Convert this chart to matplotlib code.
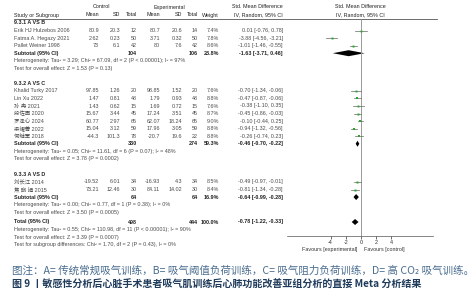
import numpy as np
import matplotlib.pyplot as plt
from matplotlib.patches import Polygon

plt.rcParams['font.family'] = ['Liberation Sans', 'Noto Sans CJK SC', 'DejaVu Sans']

# ---- data ----
groups = ['9.3.1 A VS B', '9.3.2 A VS C', '9.3.3 A VS D']
studies = ['Erik HJ Hulzebos 2006', 'Fatma A. Hegazy 2021', 'Pallet Weiner 1998',
           'Khalid Turky 2017', 'Lin Xu 2022', '孙 冉 2021', '段佐因 2020',
           '罗泽心 2024', '梁耀菁 2022', '何继军 2018',
           '刘长江 2014', '焦 晓 娟 2015']
group_of = [0, 0, 0, 1, 1, 1, 1, 1, 1, 1, 2, 2]
ctrl_mean = ['80.9', '2.62', '73', '97.85', '1.47', '1.43', '15.67', '60.77', '15.04', '-44.3', '-19.52', '73.21']
ctrl_sd = ['20.3', '0.23', '6.1', '1.26', '0.81', '0.62', '3.44', '2.97', '3.12', '101.3', '6.01', '12.46']
ctrl_n = [12, 50, 42, 20, 48, 15, 45, 65, 59, 78, 34, 30]
exp_mean = ['80.7', '3.71', '80', '98.85', '1.79', '1.69', '17.24', '62.07', '17.96', '-20.7', '-16.93', '84.11']
exp_sd = ['20.6', '0.32', '7.6', '1.52', '0.93', '0.72', '3.51', '18.24', '3.05', '19.6', '4.3', '14.02']
exp_n = [14, 50, 42, 20, 48, 15, 45, 65, 59, 22, 34, 30]
weight = [7.4, 7.8, 8.6, 7.6, 8.8, 7.6, 8.7, 9.0, 8.8, 8.8, 8.5, 8.4]
smd = [0.01, -3.88, -1.01, -0.70, -0.47, -0.38, -0.45, -0.10, -0.94, -0.26, -0.49, -0.81]
ci_lo = [-0.76, -4.56, -1.46, -1.34, -0.87, -1.10, -0.86, -0.44, -1.32, -0.74, -0.97, -1.34]
ci_hi = [0.78, -3.21, -0.55, -0.06, -0.06, 0.35, -0.03, 0.25, -0.56, 0.23, -0.01, -0.28]

sub_ctrl_n = [104, 330, 64]
sub_exp_n = [106, 274, 64]
sub_weight = [23.8, 59.3, 16.9]
sub_smd = [-1.63, -0.46, -0.64]
sub_lo = [-3.71, -0.70, -0.99]
sub_hi = [0.46, -0.22, -0.28]
sub_het = ['Heterogeneity: Tau² = 3.29; Chi² = 67.09, df = 2 (P < 0.00001); I² = 97%',
           'Heterogeneity: Tau² = 0.05; Chi² = 11.61, df = 6 (P = 0.07); I² = 48%',
           'Heterogeneity: Tau² = 0.00; Chi² = 0.77, df = 1 (P = 0.38); I² = 0%']
sub_test = ['Test for overall effect: Z = 1.53 (P = 0.13)',
            'Test for overall effect: Z = 3.78 (P = 0.0002)',
            'Test for overall effect: Z = 3.50 (P = 0.0005)']

tot_ctrl_n, tot_exp_n = 498, 444
tot_smd, tot_lo, tot_hi = -0.78, -1.22, -0.33
tot_lines = ['Heterogeneity: Tau² = 0.55; Chi² = 110.98, df = 11 (P < 0.00001); I² = 90%',
             'Test for overall effect: Z = 3.39 (P = 0.0007)',
             'Test for subgroup differences: Chi² = 1.70, df = 2 (P = 0.43), I² = 0%']

ticks = [-4, -2, 0, 2, 4]

caption1 = '图注：A= 传统常规吸气训练，B= 吸气阈值负荷训练，C= 吸气阻力负荷训练，D= 高 CO₂ 吸气训练。'
caption2 = '图 9 丨敏感性分析后心脏手术患者吸气肌训练后心肺功能改善亚组分析的直接 Meta 分析结果'

# ---- layout ----
fs = 3.9
dark = '#222222'
grey = '#4a4a4a'
green = '#2aa52a'
X_STUDY, X_CM, X_CS, X_CN = 14, 99, 120, 137
X_EM, X_ES, X_EN, X_W, X_CI = 160, 182, 198, 219, 283
step = 7.55

fig = plt.figure(figsize=(4.74, 3.0), dpi=100)
tx = fig.add_axes([0, 0, 1, 1])
tx.set_xlim(0, 474)
tx.set_ylim(300, 0)
tx.axis('off')

# forest axis: zero at px 361, 7.6 px per unit, from px 287 to 433
fx = fig.add_axes([287 / 474, 0, 146 / 474, 1])
fx.set_xlim((287 - 361) / 7.6, (433 - 361) / 7.6)
fx.set_ylim(300, 0)
fx.patch.set_alpha(0)
for s in ['top', 'left', 'right']:
    fx.spines[s].set_visible(False)
fx.spines['bottom'].set_position(('data', 236))
fx.spines['bottom'].set_linewidth(0.5)
fx.spines['bottom'].set_color('#555555')
fx.set_yticks([])
fx.set_xticks(ticks)
fx.set_xticklabels([str(t) for t in ticks])
fx.tick_params(axis='x', labelsize=fs, length=2, width=0.5, pad=1, colors='#333333')


def t(x, y, s, ha='right', bold=False, color=grey):
    tx.text(x, y, s, ha=ha, va='center', fontsize=fs, color=color,
            fontweight='bold' if bold else 'normal')


def diamond(y, c, lo, hi, h=3.0):
    fx.add_patch(Polygon([[lo, y], [c, y - h], [hi, y], [c, y + h]],
                         closed=True, color='black', lw=0))


# headers
t(102, 7, 'Control', ha='center', color=dark)
t(169, 7, 'Experimental', ha='center', color=dark)
t(257, 7, 'Std. Mean Difference', ha='center', color=dark)
t(360, 7, 'Std. Mean Difference', ha='center', color=dark)
hy = 15
t(X_STUDY, hy, 'Study or Subgroup', ha='left', color=dark)
for xx, s in [(X_CM, 'Mean'), (X_CS, 'SD'), (X_CN, 'Total'),
              (X_EM, 'Mean'), (X_ES, 'SD'), (X_EN, 'Total'), (X_W, 'Weight'),
              (X_CI, 'IV, Random, 95% CI')]:
    t(xx, hy, s, color=dark)
t(360, hy, 'IV, Random, 95% CI', ha='center', color=dark)
tx.plot([X_STUDY, 437], [18.5, 18.5], color='#555555', lw=0.6)
fx.vlines(0, 18.5, 236, color='#999999', lw=0.7)

y = 23
gap_after = [7.5, 8.0, 3.0]
for g in range(3):
    t(X_STUDY, y, groups[g], ha='left', bold=True, color=dark)
    y += step
    for i in [k for k, gg in enumerate(group_of) if gg == g]:
        t(X_STUDY, y, studies[i], ha='left')
        t(X_CM, y, ctrl_mean[i]); t(X_CS, y, ctrl_sd[i]); t(X_CN, y, str(ctrl_n[i]))
        t(X_EM, y, exp_mean[i]); t(X_ES, y, exp_sd[i]); t(X_EN, y, str(exp_n[i]))
        t(X_W, y, f'{weight[i]:.1f}%')
        t(X_CI, y, f'{smd[i]:.2f} [{ci_lo[i]:.2f}, {ci_hi[i]:.2f}]')
        fx.plot([ci_lo[i], ci_hi[i]], [y, y], color='#666666', lw=0.5)
        fx.plot(smd[i], y, marker='s', ms=1.0 + weight[i] * 0.05, color=green, mew=0)
        y += step
    t(X_STUDY, y, 'Subtotal (95% CI)', ha='left', bold=True, color=dark)
    t(X_CN, y, str(sub_ctrl_n[g]), bold=True, color=dark)
    t(X_EN, y, str(sub_exp_n[g]), bold=True, color=dark)
    t(X_W, y, f'{sub_weight[g]:.1f}%', bold=True, color=dark)
    t(X_CI, y, f'{sub_smd[g]:.2f} [{sub_lo[g]:.2f}, {sub_hi[g]:.2f}]', bold=True, color=dark)
    diamond(y, sub_smd[g], sub_lo[g], sub_hi[g])
    y += step
    t(X_STUDY, y, sub_het[g], ha='left')
    y += step
    t(X_STUDY, y, sub_test[g], ha='left')
    y += step + gap_after[g]

y = 222
t(X_STUDY, y, 'Total (95% CI)', ha='left', bold=True, color=dark)
t(X_CN, y, str(tot_ctrl_n), bold=True, color=dark)
t(X_EN, y, str(tot_exp_n), bold=True, color=dark)
t(X_W, y, '100.0%', bold=True, color=dark)
t(X_CI, y, f'{tot_smd:.2f} [{tot_lo:.2f}, {tot_hi:.2f}]', bold=True, color=dark)
diamond(y, tot_smd, tot_lo, tot_hi)
for line in tot_lines:
    y += step
    t(X_STUDY, y, line, ha='left')

t(357, 250, 'Favours [experimental]', color='#333333')
t(364, 250, 'Favours [control]', ha='left', color='#333333')

fam = ['Noto Sans CJK SC', 'DejaVu Sans']
tx.text(12, 271, caption1, ha='left', va='center', fontsize=7.6,
        color='#4a6d8f', family=fam)
tx.text(12, 285, caption2, ha='left', va='center', fontsize=7.2,
        color='#1f3b5c', family=fam, fontweight='bold')

fig.savefig('out.png', dpi=100)
